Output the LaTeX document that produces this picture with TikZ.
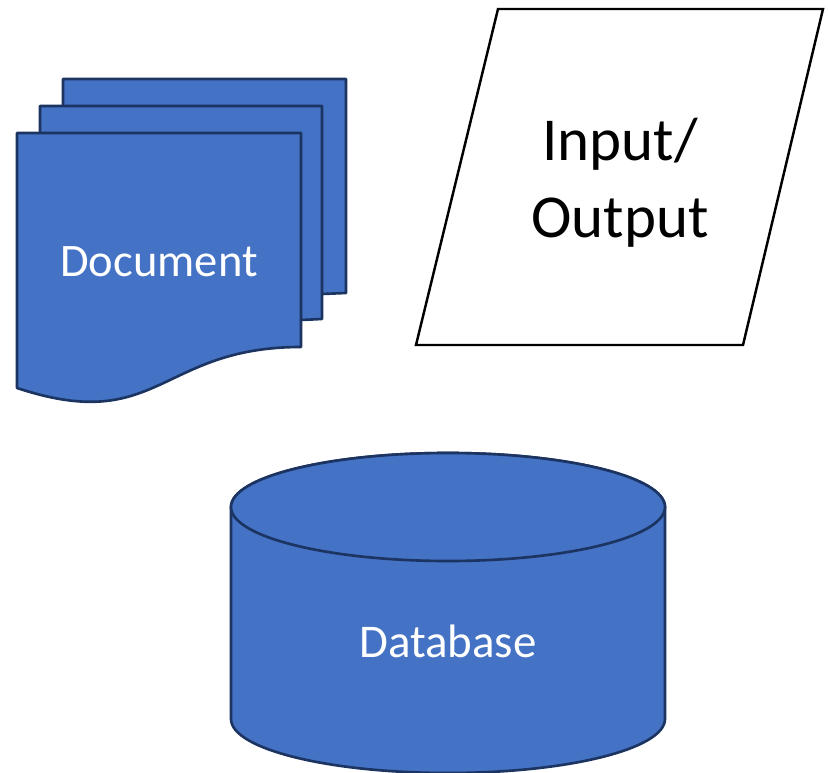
\documentclass[tikz,border=0pt]{standalone}
\usepackage{fontspec}
\setmainfont{Carlito}
\definecolor{shapeblue}{HTML}{4472C4}
\definecolor{shapeline}{HTML}{1C3461}

\begin{document}
\begin{tikzpicture}[x=0.02cm,y=-0.02cm,
    blueshape/.style={fill=shapeblue, draw=shapeline, line width=1.5pt, line join=round},
    whiteshape/.style={fill=white, draw=black, line width=1.4pt}]
  \useasboundingbox (0,0) rectangle (828,773);

  % stacked pages
  \draw[blueshape] (63,79) -- (346,79) -- (346,293) -- (322,294) -- (63,294) -- cycle;
  \draw[blueshape] (40,106) -- (322,106) -- (322,319) -- (301,320) -- (40,320) -- cycle;
  \draw[blueshape] (17,133) -- (301,133) -- (301,347)
    .. controls (159,347) and (159,435) .. (17,388) -- cycle;

  % input/output
  \draw[whiteshape] (498,9) -- (823,9) -- (743,345) -- (416,345) -- cycle;

  % database
  \draw[blueshape] (665,507) -- (665,719)
    arc[start angle=0, end angle=180, x radius=217, y radius=54]
    -- (231,507)
    arc[start angle=180, end angle=360, x radius=217, y radius=54] -- cycle;
  \draw[blueshape] (448,507) ellipse [x radius=217, y radius=54];

  \begin{scope}[every node/.style={align=center, inner sep=0pt}]
    \node[text=white, anchor=base, font=\fontsize{26.5}{32}\selectfont] (doc) at (159,277) {Document};
    \node[font=\fontsize{34.7}{43.8}\selectfont] (io) at (620,183) {Input/\\Output};
    \node[text=white, anchor=base, font=\fontsize{26.7}{32}\selectfont] (db) at (448,657) {Database};
  \end{scope}

\end{tikzpicture}
\end{document}
